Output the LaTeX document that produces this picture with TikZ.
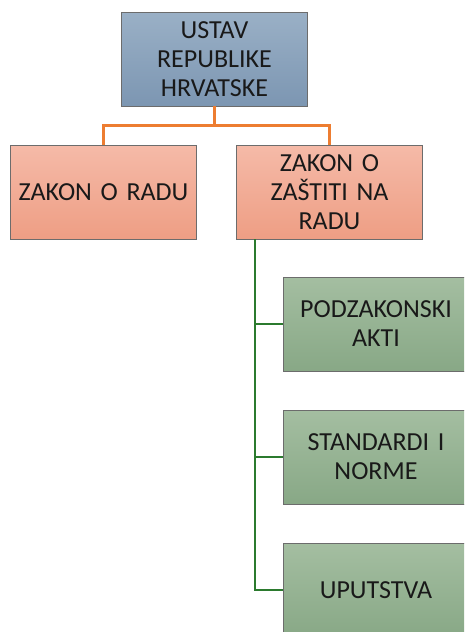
\documentclass[tikz,border=0pt]{standalone}
\usepackage{fontspec}
\setmainfont{Carlito}
\definecolor{ustavtop}{HTML}{9AB0C6}
\definecolor{ustavbot}{HTML}{7C96B2}
\definecolor{zakontop}{HTML}{F5BAA8}
\definecolor{zakonbot}{HTML}{EE9E84}
\definecolor{aktitop}{HTML}{A4BEA1}
\definecolor{aktibot}{HTML}{88A886}
\definecolor{orangeline}{HTML}{ED7D31}
\definecolor{greenline}{HTML}{2B7A2E}
\begin{document}
\begin{tikzpicture}[x=1pt,y=-1pt,
    box/.style={draw=gray!85!black, line width=0.8pt, minimum width=186pt, minimum height=94pt,
        text width=178pt, align=center, inner sep=0pt, text=black!90,
        font=\fontsize{26}{29}\selectfont},
    ustavbox/.style={box, top color=ustavtop, bottom color=ustavbot},
    zakonbox/.style={box, top color=zakontop, bottom color=zakonbot},
    aktbox/.style={box, top color=aktitop, bottom color=aktibot},
    orangelink/.style={draw=orangeline, line width=2.6pt},
    greenlink/.style={draw=greenline, line width=2.6pt}]
    \useasboundingbox (0,0) rectangle (464,632);
    \clip (0,0) rectangle (464,632);

    % Constitution on top
    \node[ustavbox] (ustav) at (214.5,59) {USTAV\\REPUBLIKE\\HRVATSKE};

    % Laws
    \node[zakonbox] (rad) at (103.5,192) {ZAKON O RADU};
    \node[zakonbox] (zastita) at (329.5,192) {ZAKON O\\ZAŠTITI NA\\RADU};

    % Regulations below the second law
    \node[aktbox] (akti) at (376,324) {PODZAKONSKI\\AKTI};
    \node[aktbox] (norme) at (376,457) {STANDARDI I\\NORME};
    \node[aktbox] (upute) at (376,590) {UPUTSTVA};

    % Orange links
    \draw[orangelink] (ustav.south) -- ++(0,19) -| (rad.north);
    \draw[orangelink] (ustav.south) -- ++(0,19) -| (zastita.north);

    % Green links
    \coordinate (trunk) at ([xshift=19pt]zastita.south west);
    \foreach \n in {akti,norme,upute} {
        \draw[greenlink] (trunk) |- (\n.west);
    }
\end{tikzpicture}
\end{document}
